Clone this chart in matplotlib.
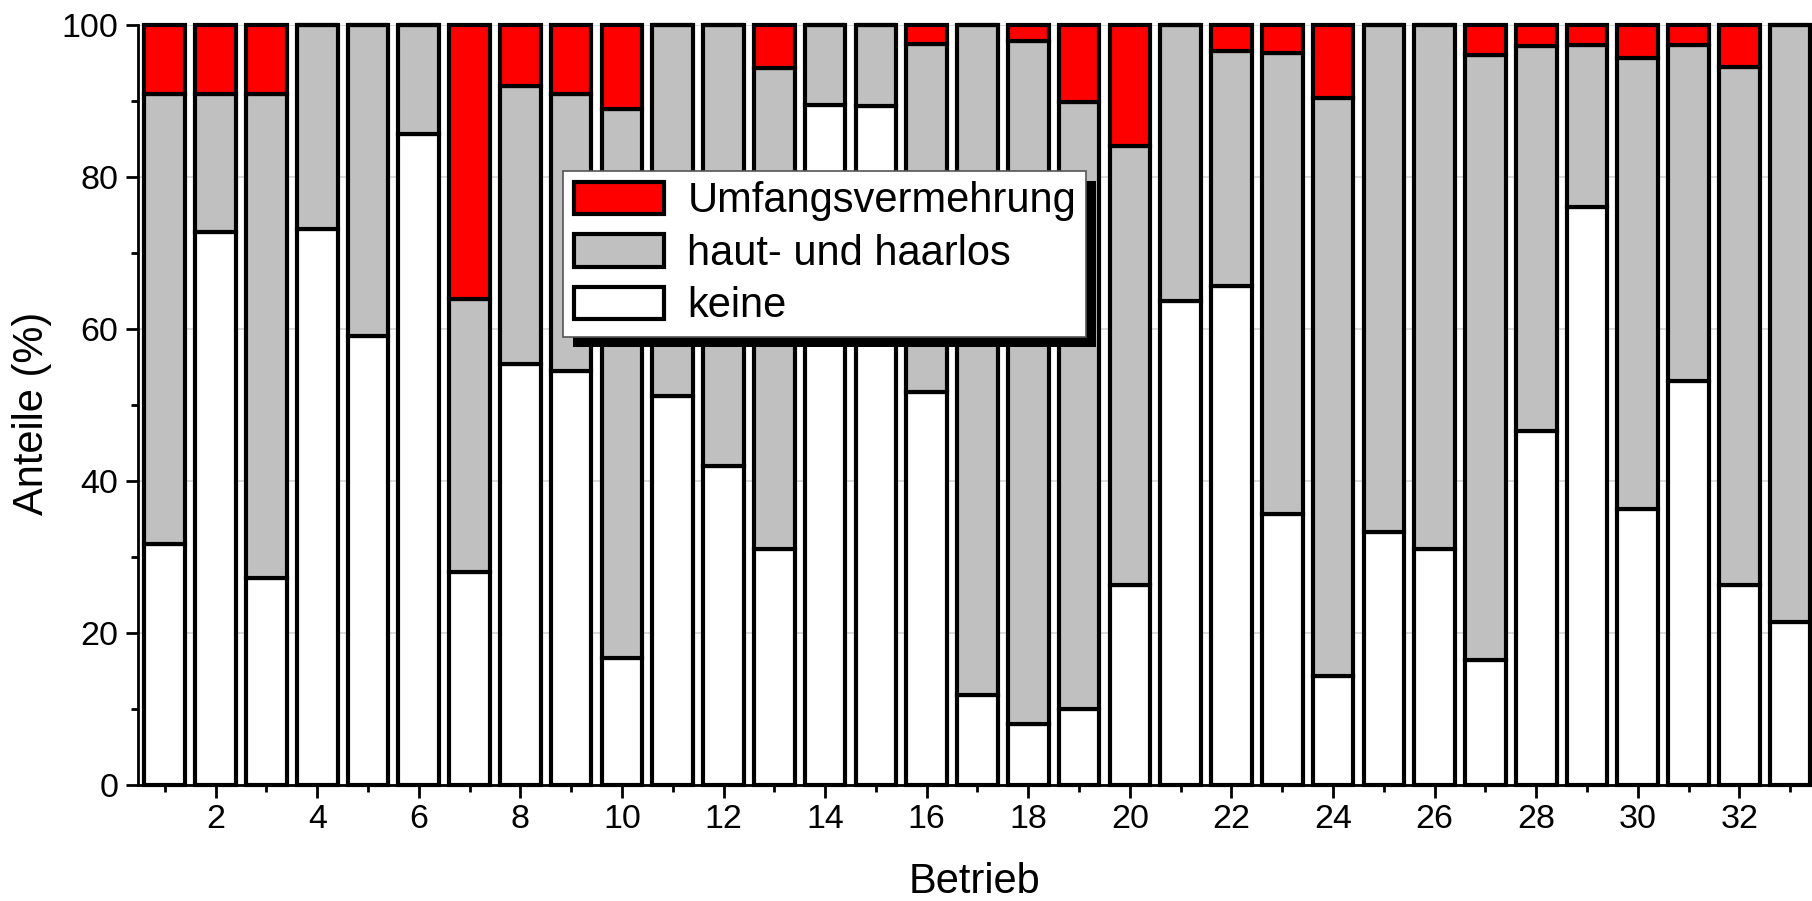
import numpy as np
import matplotlib
matplotlib.use('Agg')
import matplotlib.pyplot as plt
from matplotlib.patches import Patch, Rectangle
from matplotlib.ticker import MultipleLocator

plt.rcParams['font.family'] = ['Liberation Sans', 'DejaVu Sans']

# Anteile je Betrieb (%)
betrieb = np.arange(1, 34)
keine = [31.7, 72.7, 27.3, 73.1, 59.1, 85.6, 28.0, 55.4, 54.5, 16.7,
         51.2, 42.0, 31.0, 89.5, 89.4, 51.7, 11.8, 8.0, 10.0, 26.3,
         63.7, 65.7, 35.7, 14.3, 33.3, 31.1, 16.4, 46.6, 76.1, 36.3,
         53.2, 26.3, 21.4]
haarlos = [59.2, 18.2, 63.6, 26.9, 40.9, 14.4, 35.9, 36.6, 36.4, 72.2,
           48.8, 58.0, 63.3, 10.5, 10.6, 45.8, 88.2, 89.9, 79.9, 57.8,
           36.3, 30.9, 60.6, 76.1, 66.7, 68.9, 79.7, 50.6, 21.3, 59.3,
           44.2, 68.2, 78.6]
umfang = [9.1, 9.1, 9.1, 0.0, 0.0, 0.0, 36.1, 8.0, 9.1, 11.1,
          0.0, 0.0, 5.7, 0.0, 0.0, 2.5, 0.0, 2.1, 10.1, 15.9,
          0.0, 3.4, 3.7, 9.6, 0.0, 0.0, 3.9, 2.8, 2.6, 4.4,
          2.6, 5.5, 0.0]

keine = np.array(keine)
haarlos = np.array(haarlos)
umfang = np.array(umfang)

fig = plt.figure(figsize=(18.12, 9.01), dpi=100)
ax = fig.add_axes([0.0761, 0.1287, 0.9239, 0.8436])

bar_kw = dict(width=0.8, edgecolor='black', linewidth=3, clip_on=False)
ax.bar(betrieb, keine, color='white', **bar_kw)
ax.bar(betrieb, haarlos, bottom=keine, color='#c0c0c0', **bar_kw)
ax.bar(betrieb, umfang, bottom=keine + haarlos, color='#ff0000', **bar_kw)

ax.set_xlim(0.47, 33.43)
ax.set_ylim(0, 100)
ax.xaxis.set_major_locator(MultipleLocator(2))
ax.xaxis.set_minor_locator(MultipleLocator(1))
ax.yaxis.set_major_locator(MultipleLocator(20))
ax.yaxis.set_minor_locator(MultipleLocator(10))

ax.spines['top'].set_visible(False)
ax.spines['right'].set_visible(False)
ax.spines['left'].set_linewidth(2)
ax.spines['bottom'].set_linewidth(2)
ax.tick_params(which='major', direction='out', length=9, width=2, labelsize=24.5, pad=5)
ax.tick_params(which='minor', direction='out', length=5, width=2)

ax.set_axisbelow(True)
ax.grid(axis='y', which='major', color='#d4d4d4', linewidth=1.2)

ax.set_xlabel('Betrieb', fontsize=30)
ax.set_ylabel('Anteile (%)', fontsize=30)
ax.xaxis.set_label_coords(0.5, -0.128)
ax.xaxis.label.set_verticalalignment('center')
ax.yaxis.set_label_coords(-0.063, 0.489)
ax.yaxis.label.set_verticalalignment('center')

handles = [Patch(facecolor='#ff0000', edgecolor='black', linewidth=3),
           Patch(facecolor='#c0c0c0', edgecolor='black', linewidth=3),
           Patch(facecolor='white', edgecolor='black', linewidth=3)]
labels = ['Umfangsvermehrung', 'haut- und haarlos', 'keine']
leg = ax.legend(handles, labels, loc='upper left', bbox_to_anchor=(0.254, 0.808),
                borderaxespad=0, fontsize=30, fancybox=False, framealpha=1,
                edgecolor='#555555', borderpad=0.25, labelspacing=0.3,
                handlelength=2.18, handleheight=0.82, handletextpad=0.55)
leg.get_frame().set_linewidth(1.2)

# Schatten unter der Legende
fig.canvas.draw()
bb = leg.get_window_extent().transformed(fig.transFigure.inverted())
dx, dy = 10 / 1812, 10 / 901
ax.add_patch(Rectangle((bb.x0 + dx, bb.y0 - dy), bb.width, bb.height,
                       transform=fig.transFigure, facecolor='black',
                       edgecolor='none', clip_on=False, zorder=4.9))

fig.savefig('out.png', dpi=100)
